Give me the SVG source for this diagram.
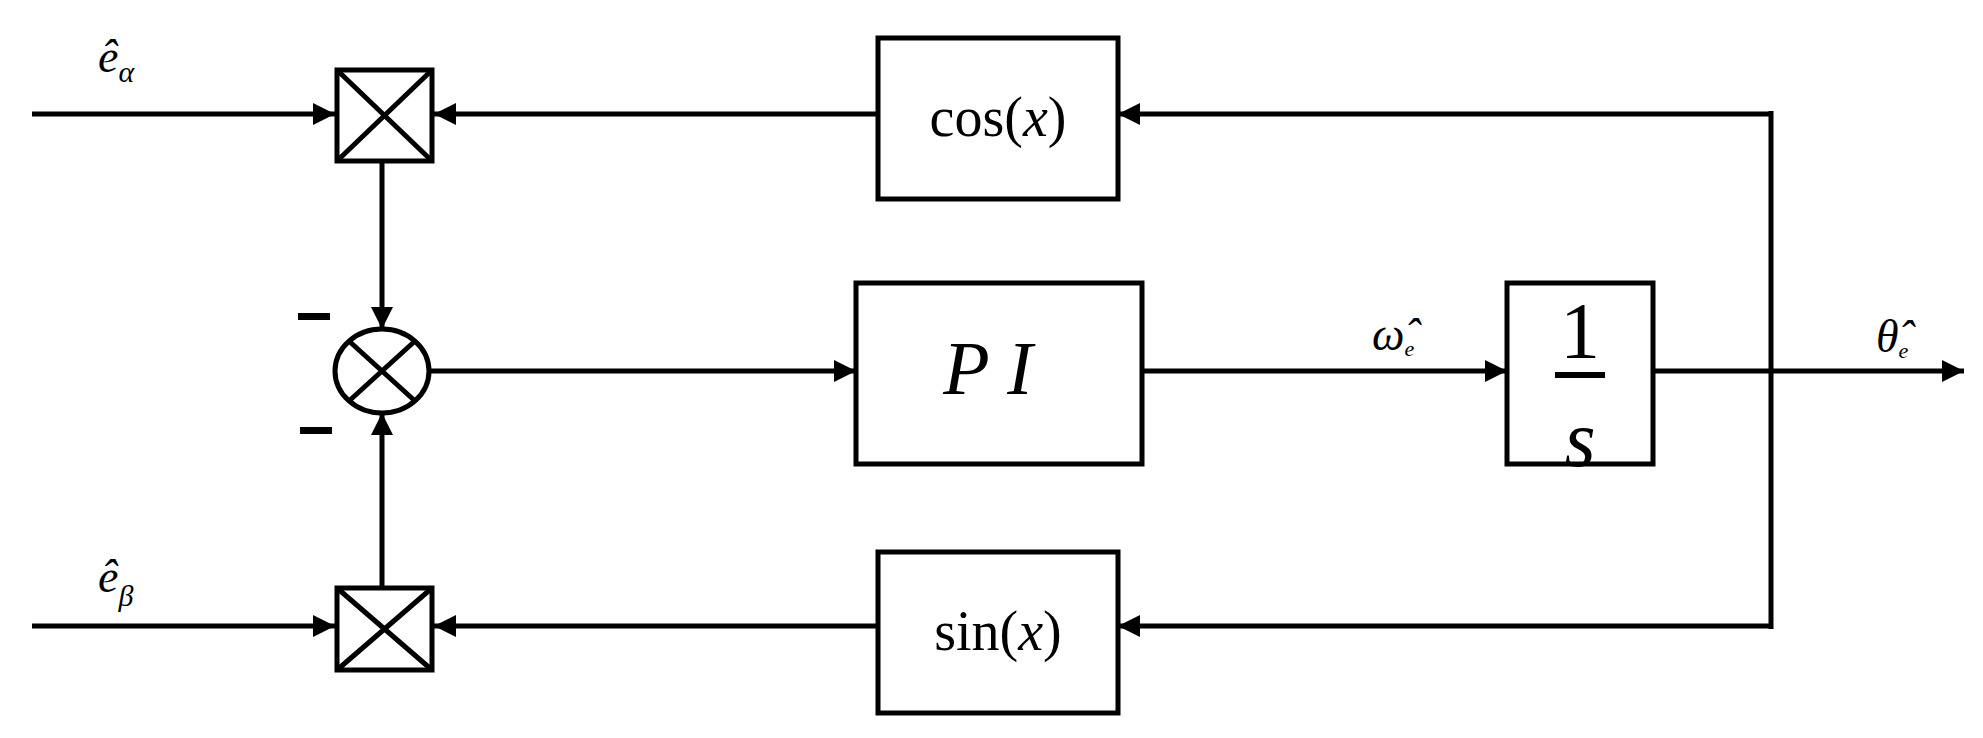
<svg xmlns="http://www.w3.org/2000/svg" width="1983" height="738" viewBox="0 0 1983 738">
<style>
.b{fill:#fff;stroke:#000;stroke-width:5}
.l{stroke:#000;stroke-width:5;fill:none}
.t{font-family:"Liberation Serif",serif;fill:#000}
</style>
<defs>
<marker id="a" markerUnits="userSpaceOnUse" markerWidth="24" markerHeight="22" refX="22" refY="11" orient="auto"><path d="M0,0L22,11L0,22z" fill="#000"/></marker>
</defs>
<rect width="1983" height="738" fill="#fff"/>
<g id="connectors">
<line class="l" x1="32" y1="114" x2="335" y2="114" marker-end="url(#a)"/>
<line class="l" x1="878" y1="114" x2="434" y2="114" marker-end="url(#a)"/>
<line class="l" x1="1771" y1="114" x2="1118" y2="114" marker-end="url(#a)"/>
<line class="l" x1="1771" y1="111" x2="1771" y2="629"/>
<line class="l" x1="1771" y1="626" x2="1118" y2="626" marker-end="url(#a)"/>
<line class="l" x1="878" y1="626" x2="434" y2="626" marker-end="url(#a)"/>
<line class="l" x1="32" y1="626" x2="335" y2="626" marker-end="url(#a)"/>
<line class="l" x1="382" y1="161" x2="382" y2="329" marker-end="url(#a)"/>
<line class="l" x1="382" y1="588" x2="382" y2="413" marker-end="url(#a)"/>
<line class="l" x1="430" y1="371" x2="856" y2="371" marker-end="url(#a)"/>
<line class="l" x1="1142" y1="371" x2="1507" y2="371" marker-end="url(#a)"/>
<line class="l" x1="1653" y1="371" x2="1964" y2="371" marker-end="url(#a)"/>
</g>
<g id="mult1"><rect class="b" x="337" y="70" width="95" height="91"/><path class="l" d="M337,70L432,161M432,70L337,161"/></g>
<g id="mult2"><rect class="b" x="337" y="588" width="95" height="82"/><path class="l" d="M337,588L432,670M432,588L337,670"/></g>
<g id="sum"><ellipse class="b" cx="382" cy="371" rx="47" ry="42"/><path class="l" d="M349,341L415,401M415,341L349,401"/>
<rect x="298" y="313" width="32" height="7"/><rect x="300" y="427" width="32" height="7"/></g>
<g id="cos"><rect class="b" x="878" y="38" width="240" height="161"/><text class="t" x="998" y="136" font-size="56" text-anchor="middle">cos(<tspan font-style="italic">x</tspan>)</text></g>
<g id="sin"><rect class="b" x="878" y="552" width="240" height="161"/><text class="t" x="998" y="650" font-size="56" text-anchor="middle">sin(<tspan font-style="italic">x</tspan>)</text></g>
<g id="pi"><rect class="b" x="856" y="283" width="286" height="181"/><text class="t" x="988" y="394" font-size="76" font-style="italic" text-anchor="middle">P I</text></g>
<g id="integ"><rect class="b" x="1507" y="283" width="146" height="181"/><text class="t" x="1580" y="358" font-size="80" text-anchor="middle">1</text><rect x="1555" y="372" width="50" height="6"/><text class="t" x="1580" y="466" font-size="80" font-style="italic" text-anchor="middle">s</text></g>
<g id="labels" class="t" font-style="italic">
<text x="98" y="72" font-size="46">ê<tspan font-size="30" dy="10">α</tspan></text>
<text x="98" y="592" font-size="46">ê<tspan font-size="30" dy="14">β</tspan></text>
<text x="1372" y="350" font-size="46">ω̂<tspan font-size="22" dy="6">e</tspan></text>
<text x="1876" y="352" font-size="46">θ̂<tspan font-size="22" dy="6">e</tspan></text>
</g>
</svg>
